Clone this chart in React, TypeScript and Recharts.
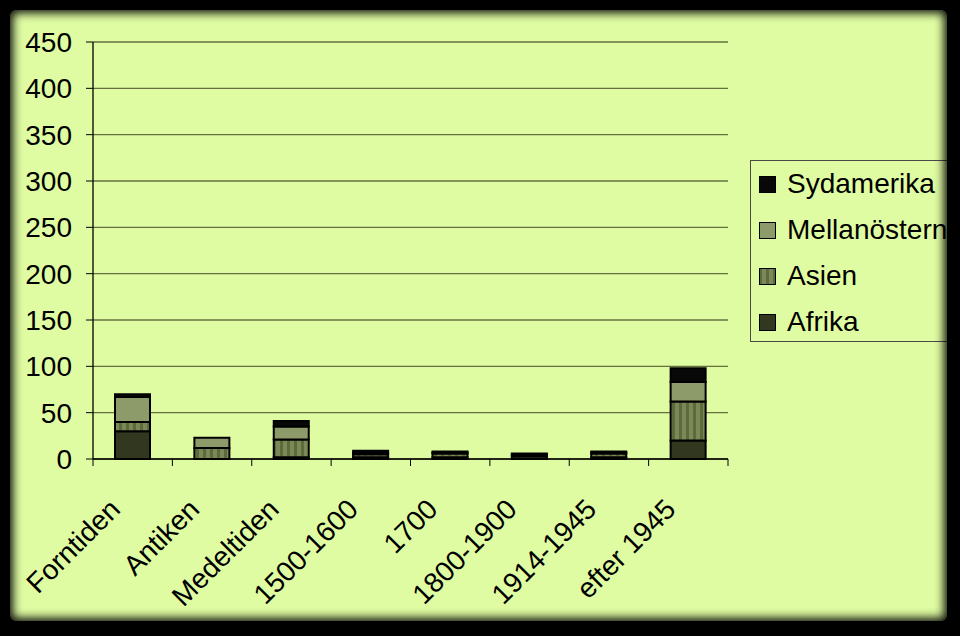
import React from 'react';
import { BarChart, Bar, XAxis, YAxis, CartesianGrid, Legend } from 'recharts';

const categories = ['Forntiden', 'Antiken', 'Medeltiden', '1500-1600', '1700', '1800-1900', '1914-1945', 'efter 1945'];
const afrika = [30, 0, 2, 2, 2, 3, 2, 20];
const asien = [10, 12, 19, 3, 4, 1, 4, 42];
const mellanostern = [27, 11, 14, 2, 1, 1, 1, 21];
const sydamerika = [3, 0, 6, 2, 1, 1, 1, 15];
const yTicks = [0, 50, 100, 150, 200, 250, 300, 350, 400, 450];

const data = categories.map((c, i) => ({
  name: c,
  Afrika: afrika[i],
  Asien: asien[i],
  Mellanostern: mellanostern[i],
  Sydamerika: sydamerika[i],
}));

const W = 960;
const H = 636;
const X_H = 30;
const MARGIN = { top: 42, right: 232, bottom: 177 - X_H, left: 0 };
const Y_W = 93;
const PLOT_W = W - MARGIN.right - MARGIN.left - Y_W;
const HALF_BAND = PLOT_W / categories.length / 2;
const FONT = '"Liberation Sans", Arial, sans-serif';
const FS = 28;
const BG = '#dffca2';
const GRID = '#66703f';

const C_AFRIKA = '#32381f';
const C_MELL = '#8d9a69';
const C_SYD = '#080808';

const legendItems = [
  { label: 'Sydamerika', fill: C_SYD },
  { label: 'Mellanöstern', fill: C_MELL },
  { label: 'Asien', fill: 'url(#asienStripes)' },
  { label: 'Afrika', fill: C_AFRIKA },
];

const XTick = (props: any) => {
  const { x, y, payload, index } = props;
  const last = index === categories.length - 1;
  const ax = x - 11;
  const ay = y + 52;
  return (
    <g>
      <line x1={x - HALF_BAND} x2={x - HALF_BAND} y1={y} y2={y + 7} stroke="#000" strokeWidth={1} />
      {last && <line x1={x + HALF_BAND} x2={x + HALF_BAND} y1={y} y2={y + 7} stroke="#000" strokeWidth={1} />}
      <text
        x={ax}
        y={ay}
        textAnchor="end"
        fontSize={FS}
        fontFamily={FONT}
        fill="#000"
        transform={`rotate(-45 ${ax} ${ay})`}
      >
        {payload.value}
      </text>
    </g>
  );
};

const LegendContent = () => (
  <div
    style={{
      width: 215,
      height: 182,
      border: '1px solid #4a4a4a',
      boxSizing: 'border-box',
      position: 'relative',
      fontFamily: FONT,
      fontSize: FS,
      color: '#000',
    }}
  >
    {legendItems.map((it, i) => (
      <div key={it.label} style={{ position: 'absolute', left: 8, top: 8 + i * 46, height: 30, display: 'flex', alignItems: 'center' }}>
        <svg width={17} height={17} style={{ marginRight: 11 }}>
          <rect x={0.5} y={0.5} width={16} height={16} fill={it.fill} stroke="#000" strokeWidth={1} />
        </svg>
        <span style={{ lineHeight: '30px' }}>{it.label}</span>
      </div>
    ))}
  </div>
);

export default function App() {
  return (
    <div style={{ position: 'absolute', left: 0, top: 0, width: W, height: H, background: '#000', overflow: 'hidden' }}>
      <svg width={0} height={0} style={{ position: 'absolute' }}>
        <defs>
          <pattern id="asienStripes" patternUnits="userSpaceOnUse" width={7} height={7}>
            <rect x={0} y={0} width={7} height={7} fill="#7b8858" />
            <rect x={0} y={0} width={3} height={7} fill="#5c6a3c" />
          </pattern>
        </defs>
      </svg>
      <div style={{ position: 'absolute', left: 10, top: 10, width: 937, height: 611, background: BG, borderRadius: 6 }} />
      <div style={{ position: 'absolute', left: 0, top: 0 }}>
        <BarChart width={W} height={H} data={data} margin={MARGIN} barSize={35}>
          <CartesianGrid horizontal vertical={false} stroke={GRID} strokeWidth={1.3} />
          <XAxis
            dataKey="name"
            height={X_H}
            interval={0}
            tickSize={0}
            tickMargin={0}
            tickLine={false}
            axisLine={{ stroke: '#000', strokeWidth: 1.3 }}
            tick={<XTick />}
          />
          <YAxis
            width={Y_W}
            domain={[0, 450]}
            ticks={yTicks}
            interval={0}
            tickSize={7}
            tickMargin={14}
            axisLine={{ stroke: '#000', strokeWidth: 1.3 }}
            tickLine={{ stroke: '#000' }}
            tick={{ fontSize: FS, fontFamily: FONT, fill: '#000' }}
          />
          <YAxis
            yAxisId="right"
            orientation="right"
            width={0}
            domain={[0, 450]}
            tick={false}
            tickLine={false}
            axisLine={{ stroke: GRID, strokeWidth: 1.3 }}
          />
          <Legend
            layout="horizontal"
            align="center"
            verticalAlign="middle"
            content={<LegendContent />}
            wrapperStyle={{ position: 'absolute', left: 750, top: 160, width: 215, height: 182 }}
          />
          <Bar dataKey="Afrika" stackId="a" fill={C_AFRIKA} stroke="#000" strokeWidth={2} isAnimationActive={false} />
          <Bar dataKey="Asien" stackId="a" fill="url(#asienStripes)" stroke="#000" strokeWidth={2} isAnimationActive={false} />
          <Bar dataKey="Mellanostern" stackId="a" fill={C_MELL} stroke="#000" strokeWidth={2} isAnimationActive={false} />
          <Bar dataKey="Sydamerika" stackId="a" fill={C_SYD} stroke="#000" strokeWidth={2} isAnimationActive={false} />
        </BarChart>
      </div>
      <div
        style={{
          position: 'absolute',
          left: 10,
          top: 10,
          width: 937,
          height: 611,
          borderRadius: 6,
          boxShadow: '0 0 0 60px #000, inset 0 0 10px 3px rgba(0,0,0,0.95)',
          pointerEvents: 'none',
        }}
      />
    </div>
  );
}
